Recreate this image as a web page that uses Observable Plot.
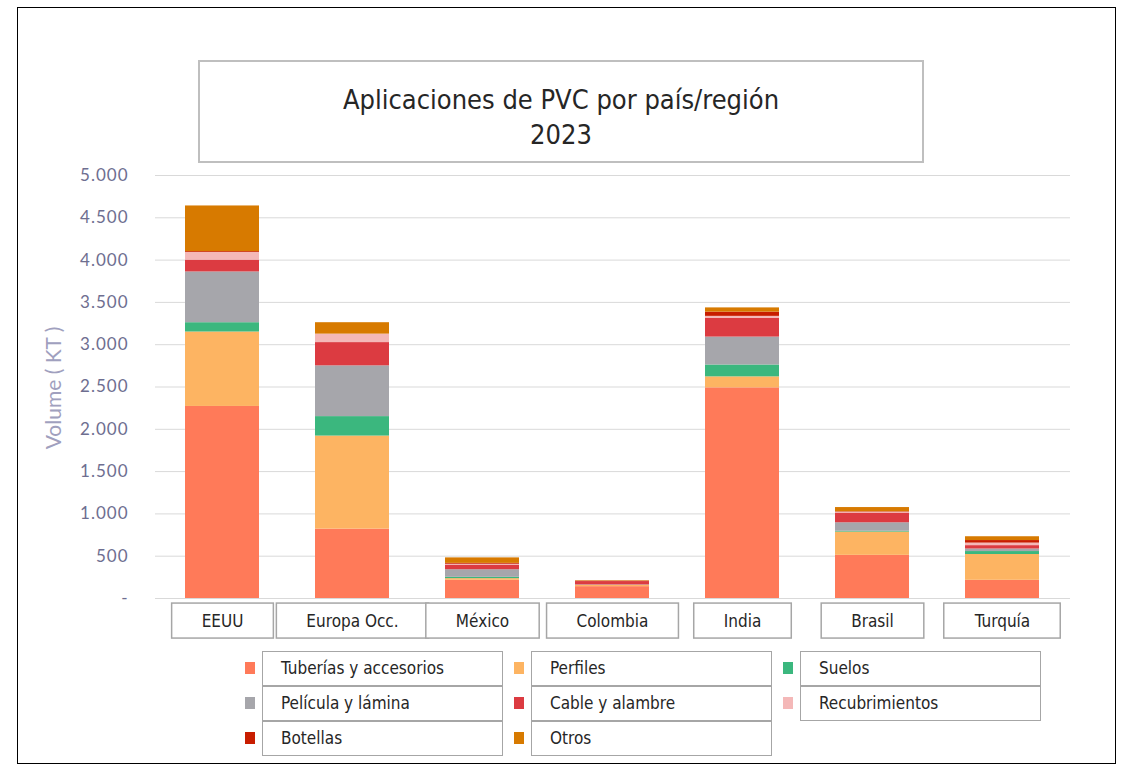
<!DOCTYPE html>
<html><head><meta charset="utf-8">
<script src="https://cdn.jsdelivr.net/npm/d3@7"></script>
<script src="https://cdn.jsdelivr.net/npm/@observablehq/plot@0.6"></script>
<style>
  body{margin:0;background:#fff;width:1132px;height:770px;position:relative;overflow:hidden;
       font-family:'Liberation Sans Narrow','DejaVu Sans Condensed',Roboto,sans-serif;color:#262626}
  #frame{position:absolute;left:17px;top:7px;width:1099px;height:757px;border:1.5px solid #000;box-sizing:border-box}
  #title{position:absolute;left:198px;top:60px;width:726px;height:103px;border:2px solid #bfbfbf;box-sizing:border-box;
         text-align:center;font-size:27px;line-height:35px;padding-top:20px;color:#262626}
  #chart{position:absolute;left:0;top:160px}
  #ylabel{position:absolute;left:52px;top:388px;transform:translate(-50%,-50%) rotate(-90deg);white-space:nowrap;
          font-family:Lato,'Open Sans',sans-serif;font-size:21px;color:#a0a0be}
  #chart g[aria-label="y-axis tick label"]{letter-spacing:1px}
  .lg-box{position:absolute;width:241px;height:35px;border:1.5px solid #a6a6a6;box-sizing:border-box;background:#fff;
          font-size:17px;line-height:32px;padding-left:18px}
  .lg-sw{position:absolute;width:10px;height:12px}
</style>
</head><body>
<div id="frame"></div>
<div id="title">Aplicaciones de PVC por país/región<br>2023</div>
<div id="ylabel">Volume ( KT )</div>
<div id="chart"></div>
<div id="legend"></div>
<script>
const categories = ["EEUU","Europa Occ.","México","Colombia","India","Brasil","Turquía"];
const series = ["Tuberías y accesorios","Perfiles","Suelos","Película y lámina","Cable y alambre","Recubrimientos","Botellas","Otros"];
const tuberias       = [2270,  820, 215, 140, 2490, 510, 215];
const perfiles       = [ 880, 1100,  20,  15,  130, 275, 305];
const suelos         = [ 110,  230,  15,   0,  140,  10,  35];
const pelicula       = [ 600,  600,  90,   5,  330, 100,  30];
const cable          = [ 140,  275,  55,  40,  220, 115,  40];
const recubrimientos = [  90,  100,  10,   0,   25,  10,  30];
const botellas       = [  10,    0,  10,   5,   50,   5,  30];
const otros          = [ 540,  135,  65,   5,   50,  50,  45];
const yTicks = [0,500,1000,1500,2000,2500,3000,3500,4000,4500,5000];
const colors = ["#FF7A59","#FDB462","#3BB77E","#A6A6AB","#DC3B41","#F4B8B8","#C81D00","#D77A00"];

const seriesValues = [tuberias, perfiles, suelos, pelicula, cable, recubrimientos, botellas, otros];
const table = [];
series.forEach((s, si) => categories.forEach((c, ci) => table.push({cat: c, series: s, value: seriesValues[si][ci]})));

const fmt = d => d === 0 ? "-" : d3.format(",")(d).replace(/,/g, ".");

const plot = Plot.plot({
  width: 1132, height: 490,
  marginLeft: 155, marginRight: 62, marginTop: 15, marginBottom: 52,
  style: {background: "transparent", fontFamily: "'Liberation Sans Narrow','DejaVu Sans Condensed',Roboto,sans-serif"},
  x: {domain: categories, paddingInner: 0.427, paddingOuter: 0.206, align: 0.5},
  y: {domain: [0, 5000]},
  color: {domain: series, range: colors},
  marks: [
    Plot.gridY(yTicks, {stroke: "#d9d9d9", strokeOpacity: 1, strokeWidth: 1}),
    Plot.barY(table, {x: "cat", y: "value", fill: "series", order: series}),
    Plot.axisY(yTicks, {tickSize: 0, tickPadding: 27, tickFormat: fmt, label: null,
      fontSize: 17, fontFamily: "Lato,'Open Sans',sans-serif", fill: "#6e6e90"}),
    Plot.axisX({tickSize: 0, tickPadding: 16, label: null, fontSize: 17, fill: "#262626"})
  ]
});
document.getElementById("chart").appendChild(plot);

// boxes around the category labels
const svgRect = plot.getBoundingClientRect();
const xAxis = plot.querySelector('g[aria-label="x-axis tick label"]');
const boxG = document.createElementNS("http://www.w3.org/2000/svg", "g");
xAxis.parentNode.insertBefore(boxG, xAxis);
xAxis.querySelectorAll("text").forEach(t => {
  const r = t.getBoundingClientRect();
  const cx = r.left + r.width / 2 - svgRect.left;
  const cy = r.top + r.height / 2 - svgRect.top;
  const w = r.width + 60;
  d3.select(boxG).append("rect")
    .attr("x", cx - w / 2).attr("y", cy - 17.5).attr("width", w).attr("height", 35)
    .attr("fill", "#fff").attr("stroke", "#a6a6a6").attr("stroke-width", 1.5);
});

// legend
const legend = document.getElementById("legend");
series.forEach((s, i) => {
  const col = i % 3, row = Math.floor(i / 3);
  const left = 262 + col * 269, top = 651 + row * 35;
  const box = document.createElement("div");
  box.className = "lg-box";
  box.style.left = left + "px"; box.style.top = top + "px";
  box.textContent = s;
  const sw = document.createElement("div");
  sw.className = "lg-sw";
  sw.style.left = (left - 17) + "px"; sw.style.top = (top + 11) + "px";
  sw.style.background = colors[i];
  legend.appendChild(sw);
  legend.appendChild(box);
});
</script>
</body></html>
